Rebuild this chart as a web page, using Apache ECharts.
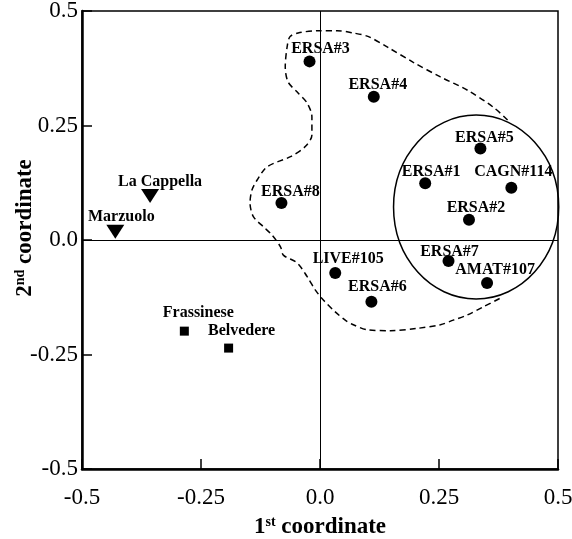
<!DOCTYPE html>
<html>
<head>
<meta charset="utf-8">
<script src="https://cdn.jsdelivr.net/npm/echarts@6/dist/echarts.min.js"></script>
<style>
  html, body { margin: 0; padding: 0; background: #fff; }
  #chart { width: 572px; height: 539px; }
</style>
</head>
<body>
<div id="chart"></div>
<script>
// accessions (filled circles)
const accNames = ['ERSA#3', 'ERSA#4', 'ERSA#5', 'ERSA#1', 'CAGN#114', 'ERSA#2', 'ERSA#8', 'ERSA#7', 'AMAT#107', 'LIVE#105', 'ERSA#6'];
const accX = [-0.022, 0.113, 0.337, 0.221, 0.402, 0.313, -0.081, 0.270, 0.351, 0.032, 0.108];
const accY = [0.390, 0.313, 0.200, 0.124, 0.114, 0.044, 0.081, -0.046, -0.094, -0.072, -0.135];

// triangles
const triNames = ['La Cappella', 'Marzuolo'];
const triX = [-0.357, -0.430];
const triY = [0.096, 0.018];

// squares
const sqNames = ['Frassinese', 'Belvedere'];
const sqX = [-0.285, -0.192];
const sqY = [-0.199, -0.236];

// hand drawn dashed group outline (data coords)
const outline = [
  [0.394, 0.262], [0.364, 0.290], [0.310, 0.327], [0.253, 0.356], [0.196, 0.388],
  [0.142, 0.421], [0.102, 0.444], [0.070, 0.452], [0.036, 0.457], [-0.006, 0.457],
  [-0.046, 0.452], [-0.063, 0.444], [-0.069, 0.422], [-0.073, 0.378], [-0.067, 0.345],
  [-0.046, 0.321], [-0.027, 0.299], [-0.017, 0.269], [-0.017, 0.229], [-0.031, 0.204],
  [-0.062, 0.182], [-0.111, 0.160], [-0.132, 0.131], [-0.143, 0.109], [-0.147, 0.081],
  [-0.140, 0.051], [-0.119, 0.029], [-0.101, 0.011], [-0.083, -0.015], [-0.077, -0.033],
  [-0.048, -0.050], [-0.027, -0.080], [-0.010, -0.109], [0.007, -0.131], [0.032, -0.157],
  [0.053, -0.175], [0.070, -0.185], [0.099, -0.196], [0.148, -0.198], [0.204, -0.193],
  [0.253, -0.185], [0.280, -0.175], [0.309, -0.164], [0.343, -0.146], [0.379, -0.127]
];

// cluster circle: centre x, centre y, radius x, radius y
const cluster = [0.328, 0.072, 0.1735, 0.2007];

// label offsets (px) from the marker centre
const labelOffset = {
  'ERSA#3': [11, -13], 'ERSA#4': [4, -12], 'ERSA#5': [4, -11], 'ERSA#1': [6, -11],
  'CAGN#114': [2, -16], 'ERSA#2': [7, -12], 'ERSA#8': [9, -11], 'ERSA#7': [1, -9],
  'AMAT#107': [8, -13], 'LIVE#105': [13, -14], 'ERSA#6': [6, -15],
  'La Cappella': [10, -14], 'Marzuolo': [6, -15],
  'Frassinese': [14, -18], 'Belvedere': [13, -17]
};

const serif = '"Liberation Serif", "Times New Roman", serif';

function points(names, xs, ys) {
  return names.map((n, i) => ({
    name: n,
    value: [xs[i], ys[i]],
    label: { offset: labelOffset[n] }
  }));
}

const pointLabel = {
  show: true,
  position: 'inside',
  formatter: '{b}',
  color: '#000',
  fontFamily: serif,
  fontWeight: 'bold',
  fontSize: 16
};

function tickFmt(v) {
  if (v === 0) return '0.0';
  return String(v);
}

const axisCommon = {
  type: 'value',
  min: -0.5,
  max: 0.5,
  interval: 0.25,
  nameLocation: 'middle',
  nameMoveOverlap: false,
  axisLine: { show: true, onZero: false, lineStyle: { color: '#000', width: 2.5 } },
  axisTick: { show: true, inside: true, length: 10, lineStyle: { color: '#000', width: 1.5 } },
  splitLine: { show: false },
  axisLabel: { color: '#000', fontFamily: serif, fontSize: 23, formatter: tickFmt }
};

const nameRich = {
  b: { fontFamily: serif, fontWeight: 'bold', fontSize: 23, color: '#000' },
  sup: { fontFamily: serif, fontWeight: 'bold', fontSize: 14, color: '#000', verticalAlign: 'top', padding: [0, 0, 10, 0] }
};

const chart = echarts.init(document.getElementById('chart'));

chart.setOption({
  animation: false,
  backgroundColor: '#fff',
  grid: {
    left: 82, right: 14, top: 11, bottom: 70,
    containLabel: false,
    outerBoundsMode: 'none',
    show: true, borderColor: '#000', borderWidth: 1.5
  },
  xAxis: Object.assign({}, axisCommon, {
    name: '{b|1}{sup|st}{b| coordinate}',
    nameGap: 46,
    nameTextStyle: { rich: nameRich },
    axisLabel: Object.assign({}, axisCommon.axisLabel, { margin: 17 })
  }),
  yAxis: Object.assign({}, axisCommon, {
    name: '{b|2}{sup|nd}{b| coordinate}',
    nameGap: 45,
    nameTextStyle: { rich: nameRich, padding: [0, 0, 0, 24] },
    axisLabel: Object.assign({}, axisCommon.axisLabel, { margin: 4 })
  }),
  series: [
    {
      type: 'line',
      silent: true,
      data: outline,
      smooth: 0.3,
      showSymbol: false,
      symbol: 'none',
      lineStyle: { color: '#000', width: 1.5, type: [6, 4] },
      markLine: {
        silent: true,
        symbol: 'none',
        label: { show: false },
        lineStyle: { color: '#000', width: 1, type: 'solid' },
        data: [{ xAxis: 0 }, { yAxis: 0 }]
      },
      z: 1
    },
    {
      type: 'custom',
      silent: true,
      data: [cluster],
      encode: { x: 0, y: 1 },
      renderItem: function (params, api) {
        const c = api.coord([api.value(0), api.value(1)]);
        const s = api.size([api.value(2), api.value(3)]);
        return {
          type: 'ellipse',
          shape: { cx: c[0], cy: c[1], rx: s[0], ry: s[1] },
          style: { fill: null, stroke: '#000', lineWidth: 1.5 }
        };
      },
      z: 1
    },
    {
      type: 'scatter',
      data: points(accNames, accX, accY),
      symbol: 'circle',
      symbolSize: 12,
      itemStyle: { color: '#000', opacity: 1 },
      label: pointLabel,
      z: 3
    },
    {
      type: 'scatter',
      data: points(triNames, triX, triY),
      symbol: 'triangle',
      symbolRotate: 180,
      symbolSize: [18, 14],
      itemStyle: { color: '#000', opacity: 1 },
      label: pointLabel,
      z: 3
    },
    {
      type: 'scatter',
      data: points(sqNames, sqX, sqY),
      symbol: 'rect',
      symbolSize: 9,
      itemStyle: { color: '#000', opacity: 1 },
      label: pointLabel,
      z: 3
    }
  ]
});
</script>
</body>
</html>
